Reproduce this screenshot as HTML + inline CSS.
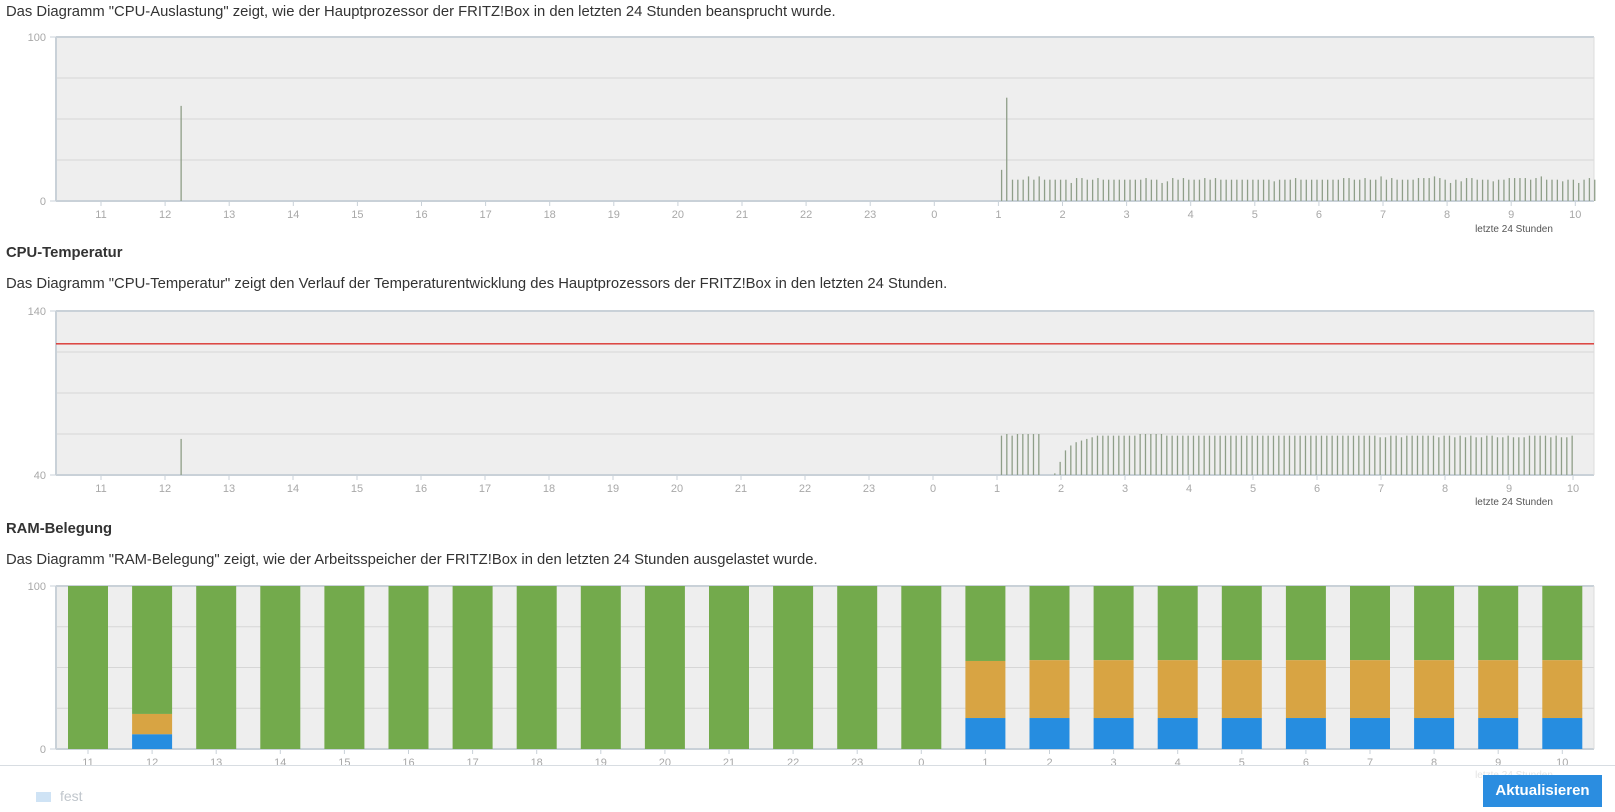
<!DOCTYPE html>
<html><head><meta charset="utf-8"><style>
body{margin:0;width:1615px;height:812px;background:#fff;font-family:"Liberation Sans",sans-serif;color:#333;overflow:hidden;position:relative}
.t{position:absolute;left:6px;font-size:14.8px;white-space:nowrap}
.h{font-weight:bold}
svg{position:absolute;left:0;top:0}
#btn{position:absolute;left:1483px;top:775px;width:119px;height:32px;background:#2b8de0;color:#fff;font-weight:bold;font-size:15px;line-height:32px;text-align:center}
#sep{position:absolute;left:0;top:765px;width:1615px;height:1px;background:#d8dde2}
</style></head><body>
<div class="t" style="top:4px">Das Diagramm "CPU-Auslastung" zeigt, wie der Hauptprozessor der FRITZ!Box in den letzten 24 Stunden beansprucht wurde.</div>
<div class="t h" style="top:245px">CPU-Temperatur</div>
<div class="t" style="top:276px">Das Diagramm "CPU-Temperatur" zeigt den Verlauf der Temperaturentwicklung des Hauptprozessors der FRITZ!Box in den letzten 24 Stunden.</div>
<div class="t h" style="top:521px">RAM-Belegung</div>
<div class="t" style="top:552px">Das Diagramm "RAM-Belegung" zeigt, wie der Arbeitsspeicher der FRITZ!Box in den letzten 24 Stunden ausgelastet wurde.</div>
<svg id="svg" width="1615" height="812"></svg>
<div id="sep"></div>
<div style="position:absolute;left:36px;top:792px;width:15px;height:10px;background:#cfe3f5"></div>
<div style="position:absolute;left:60px;top:788px;font-size:14px;color:#c0c6cc">fest</div>
<div id="btn">Aktualisieren</div>
<script>
const hourLabels=["11","12","13","14","15","16","17","18","19","20","21","22","23","0","1","2","3","4","5","6","7","8","9","10"];
// CPU: isolated spikes [hour offset from 11:00, value]
const cpuSingle=[[1.25,58],[14.05,19],[14.13,63]];
const cpuStart=14.22; // hour offset of first periodic sample
const cpuStep=5/60;
const cpuValues=[13,13,13,15,13,15,13,13,13,13,13,11,14,14,13,13,14,13,13,13,13,13,13,13,13,14,13,13,11,12,14,13,14,13,13,13,14,13,14,13,13,13,13,13,13,13,13,13,13,12,13,13,13,14,13,13,13,13,13,13,13,13,14,14,13,13,14,13,13,15,13,14,13,13,13,13,14,14,14,15,14,13,11,13,12,14,14,13,13,13,12,13,13,14,14,14,14,13,14,15,13,13,13,12,13,13,11,13,14,13];
// Temperature
const tempLimit=120;
const tempSingle=[[1.25,62]];
const tempStart=14.07;
const tempStep=5/60;
const tempValues=[64,65,64,65,65,65,65,65,null,null,41,48,55,58,60,61,62,63,64,64,64,64,64,64,64,64,65,65,65,65,65,64,64,64,64,64,64,64,64,64,64,64,64,64,64,64,64,64,64,64,64,64,64,64,64,64,64,64,64,64,64,64,64,64,64,64,64,64,64,64,64,63,63,64,64,63,64,64,64,64,64,64,63,64,64,63,64,63,64,63,63,64,64,63,63,64,63,63,63,64,64,64,64,63,64,63,63,64];
// RAM stacked percentages
const ramBlue=[0,9,0,0,0,0,0,0,0,0,0,0,0,0,19,19,19,19,19,19,19,19,19,19];
const ramOrange=[0,12.5,0,0,0,0,0,0,0,0,0,0,0,0,35,35.5,35.5,35.5,35.5,35.5,35.5,35.5,35.5,35.5];

const NS="http://www.w3.org/2000/svg";
const svg=document.getElementById('svg');
function mk(tag,at,parent){const e=document.createElementNS(NS,tag);for(const k in at)e.setAttribute(k,at[k]);(parent||svg).appendChild(e);return e;}
const L=56,R=1594;
function frame(top,bot,min,max,x0,step,axisName){
  const g=mk('g',{});
  
  
  mk('rect',{x:L,y:top,width:R-L,height:bot-top,fill:'#eeeeee'},g);
  for(let i=0;i<=4;i++){const y=top+(bot-top)*i/4;mk('line',{x1:L,x2:R,y1:y,y2:y,stroke:i==0||i==4?'#c9d1d8':'#d6d6d6','stroke-width':i==0||i==4?2:1},g);}
  mk('line',{x1:L,x2:L,y1:top,y2:bot,stroke:'#c9d1d8','stroke-width':2},g);
  mk('line',{x1:R,x2:R,y1:top,y2:bot,stroke:'#dcdcdc','stroke-width':1},g);
  const yl=[[max,top],[min,bot]];
  yl.forEach(([v,y])=>{const t=mk('text',{x:46,y:y+4,'text-anchor':'end','font-size':11,fill:'#a8a8a8'},g);t.textContent=v;
    
    
    mk('line',{x1:L-6,x2:L,y1:y,y2:y,stroke:'#c9d1d8'},g);});
  hourLabels.forEach((lab,i)=>{const x=x0+i*step;
    mk('line',{x1:x,x2:x,y1:bot,y2:bot+5,stroke:'#c9d1d8'},g);
    const t=mk('text',{x:x,y:bot+17,'text-anchor':'middle','font-size':11,fill:'#a8a8a8'},g);t.textContent=lab;
    
    });
  return g;
}
// CPU
const cT=37,cB=201,hx=h=>101+h*64.1;
const cy=v=>cB-(cB-cT)*v/100;
const g1=frame(cT,cB,0,100,101,64.1,'cpu');
function spike(g,x,v,yf,bot,name){const l=mk('line',{x1:x,x2:x,y1:bot,y2:yf(v),stroke:'#8e9e88','stroke-width':1.3},g);
  
  }
cpuSingle.forEach(([h,v])=>spike(g1,hx(h),v,cy,cB,'cpu-spike'));
cpuValues.forEach((v,i)=>spike(g1,hx(cpuStart+i*cpuStep),v,cy,cB,'cpu-spike'));
let t1=mk('text',{x:1514,y:232,'text-anchor':'middle','font-size':10,fill:'#555'});t1.textContent='letzte 24 Stunden';


// Temperature
const tT=311,tB=475;
const ty=v=>tB-(tB-tT)*(v-40)/100;
const g2=frame(tT,tB,40,140,101,64.0,'temp');
tempSingle.forEach(([h,v])=>spike(g2,hx(h),v,ty,tB,'temp-spike'));
tempValues.forEach((v,i)=>{if(v!==null)spike(g2,101+(tempStart+i*tempStep)*64.0,v,ty,tB,'temp-spike');});
const rl=mk('line',{x1:L,x2:R,y1:ty(tempLimit),y2:ty(tempLimit),stroke:'#d9302c','stroke-width':1.3},g2);


let t2=mk('text',{x:1514,y:505,'text-anchor':'middle','font-size':10,fill:'#555'});t2.textContent='letzte 24 Stunden';


// RAM
const rT=586,rB=749;
const ry=v=>rB-(rB-rT)*v/100;
const g3=frame(rT,rB,0,100,88,64.1,'ram');
hourLabels.forEach((lab,i)=>{const x=88+i*64.1-20;
  const b=ramBlue[i],o=ramOrange[i];
  const rg=mk('rect',{x:x,y:rT,width:40,height:ry(b+o)-rT,fill:'#73aa4c'},g3);
  
  
  if(o>0){const ro=mk('rect',{x:x,y:ry(b+o),width:40,height:ry(b)-ry(b+o),fill:'#d8a443'},g3);
    
    }
  if(b>0){const rb=mk('rect',{x:x,y:ry(b),width:40,height:rB-ry(b),fill:'#268de0'},g3);
    
    }
});
let t3=mk('text',{x:1514,y:778,'text-anchor':'middle','font-size':10,fill:'#e4e4e4'});t3.textContent='letzte 24 Stunden';


</script>
</body></html>
